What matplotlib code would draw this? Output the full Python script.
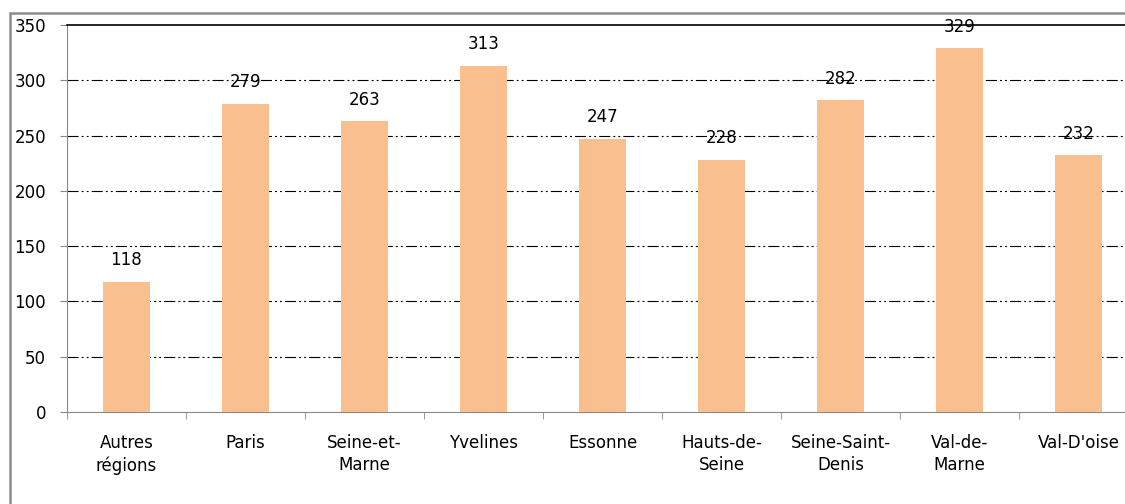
import matplotlib.pyplot as plt
from matplotlib.patches import Rectangle

categories = ["Autres\nrégions", "Paris", "Seine-et-\nMarne", "Yvelines", "Essonne",
              "Hauts-de-\nSeine", "Seine-Saint-\nDenis", "Val-de-\nMarne", "Val-D'oise"]
values = [118, 279, 263, 313, 247, 228, 282, 329, 232]
yticks = [0, 50, 100, 150, 200, 250, 300, 350]

plt.rcParams["lines.scale_dashes"] = False

fig = plt.figure(figsize=(11.25, 5.04), dpi=100)
W, H = 1125, 504
ax = fig.add_axes([67 / W, 1 - 412 / H, 1071 / W, 387 / H])

x = list(range(len(values)))
ax.bar(x, values, width=0.4, color="#F9BF8F", zorder=3)

for xi, v in zip(x, values):
    ax.annotate(str(v), (xi, v), xytext=(0, 9), textcoords="offset points",
                ha="center", va="bottom", fontsize=12, color="black")

ax.set_xlim(-0.5, len(values) - 0.5)
ax.set_ylim(0, 350)

# dash-dot-dot gridlines
for t in yticks[1:-1]:
    ax.axhline(t, color="black", lw=0.8, dashes=(8, 2.2, 1.4, 2.2, 1.4, 2.2), zorder=1)

ax.set_yticks(yticks)
ax.tick_params(axis="y", direction="out", length=5, color="#888888",
               labelsize=12, labelcolor="black", pad=10)

ax.set_xticks(x)
ax.set_xticklabels(categories, fontsize=12, color="black", linespacing=1.3)
ax.set_xticks([i - 0.5 for i in range(len(values) + 1)], minor=True)
ax.tick_params(axis="x", which="major", length=0, pad=16)
ax.tick_params(axis="x", which="minor", direction="out", length=5, color="#888888")

ax.spines["left"].set_color("#888888")
ax.spines["bottom"].set_color("#888888")
ax.spines["top"].set_color("black")
ax.spines["top"].set_linewidth(1.2)
ax.spines["right"].set_visible(False)

# outer frame of the chart
fig.patches.append(Rectangle((10 / W, -0.1), 1.2, 1 - 13 / H + 0.1,
                             transform=fig.transFigure, fill=False,
                             edgecolor="#8c8c8c", lw=1.8))

fig.savefig("out.png", dpi=100)
